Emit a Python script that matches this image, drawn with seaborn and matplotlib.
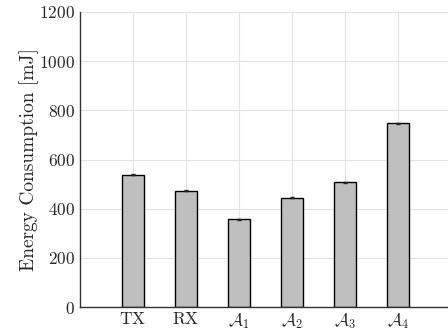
import numpy as np
import pandas as pd
import matplotlib
matplotlib.use("Agg")
import matplotlib.pyplot as plt
import seaborn as sns

labels = [r"$\mathrm{TX}$", r"$\mathrm{RX}$", r"$\mathcal{A}_1$", r"$\mathcal{A}_2$", r"$\mathcal{A}_3$", r"$\mathcal{A}_4$"]
energy = [537, 473, 357, 445, 507, 747]
errs = [2, 2, 1.5, 1.5, 1.5, 1.5]

sns.set_style("whitegrid")
plt.rcParams["font.family"] = ["cmr10", "DejaVu Serif"]
plt.rcParams["mathtext.fontset"] = "cm"
plt.rcParams["axes.formatter.use_mathtext"] = True

df = pd.DataFrame({"cat": labels, "energy": energy})

fig = plt.figure(figsize=(4.48, 3.32), dpi=100)
ax = fig.add_axes([80/448, 25/332, 371/448, 295/332])
sns.barplot(data=df, x="cat", y="energy", color="#bfbfbf", saturation=1,
            width=0.4, edgecolor="black", linewidth=1, ax=ax)
ax.errorbar(range(len(energy)), energy, yerr=errs, fmt="none", ecolor="#222222",
            elinewidth=1, capsize=1.5, capthick=1)

ax.set_xlim(-1, 6)
ax.set_ylim(0, 1200)
ax.set_yticks(range(0, 1201, 200))
ax.set_xlabel("")
ax.set_ylabel(r"Energy Consumption [mJ]", fontsize=14, labelpad=0)
ax.tick_params(axis="both", labelsize=12.5, direction="in", length=3, color="#333333")
ax.tick_params(axis="x", length=0, pad=3)
ax.grid(True, color="#e3e3e3", linewidth=0.8)
ax.set_axisbelow(True)
for s in ["top", "right"]:
    ax.spines[s].set_visible(False)
for s in ["left", "bottom"]:
    ax.spines[s].set_color("#333333")
    ax.spines[s].set_linewidth(1)

fig.savefig("out.png", dpi=100)
